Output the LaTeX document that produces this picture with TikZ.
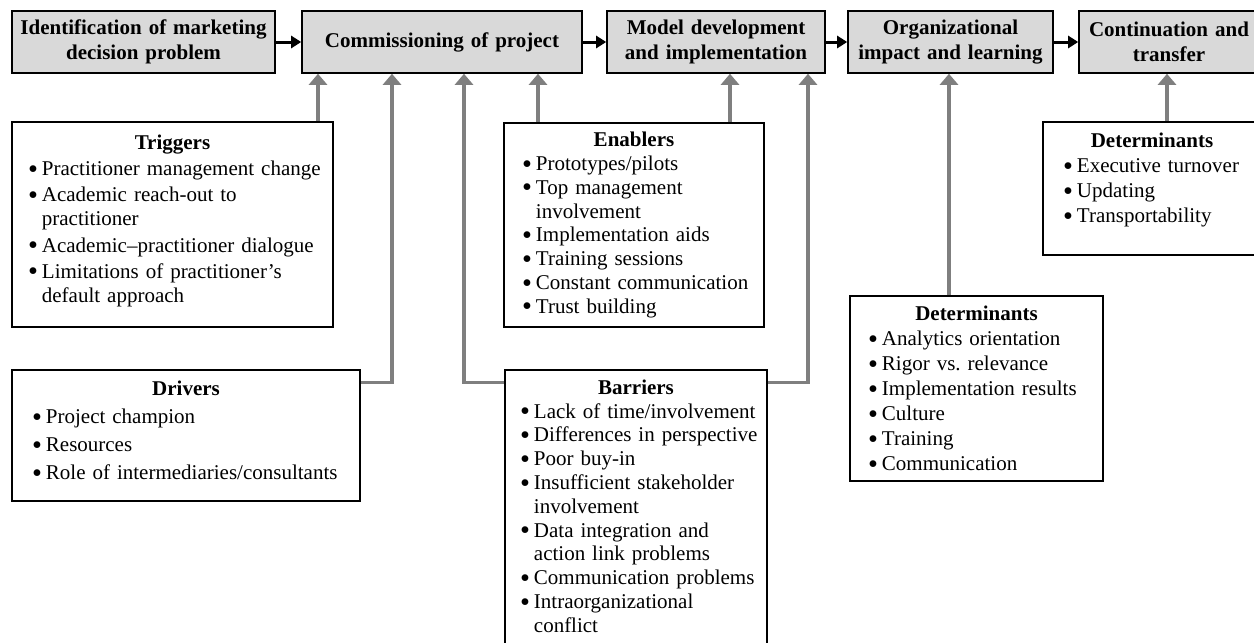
\documentclass[tikz,border=0pt]{standalone}
\usepackage{fontspec}
\usepackage{graphicx}
\setmainfont{Liberation Serif}
\usetikzlibrary{arrows.meta}
\definecolor{boxgray}{HTML}{D9D9D9}
\definecolor{linkgray}{HTML}{7F7F7F}
\newcommand{\itm}{\par\noindent\sbox0{\raisebox{-2.6pt}[0pt][0pt]{\scalebox{1.35}{\textbullet}}\hspace{4pt}}\hangindent=\wd0 \hangafter=1 \rightskip=-40pt plus 1fil\relax\usebox0}
\newcommand{\hd}[1]{{\centering\bfseries #1\par}}

\begin{document}
\begin{tikzpicture}[x=1pt, y=-1pt,
  every node/.style={font=\fontsize{21}{23.8}\selectfont},
  topbox/.style={draw, line width=1.6pt, fill=boxgray, align=center, text width=#1, inner xsep=0pt, minimum height=62pt, font=\fontsize{21}{25}\selectfont\bfseries},
  listbox/.style={draw, line width=1.6pt, fill=white, align=left, execute at begin node={\setlength{\parskip}{#1}}},
  listbox/.default=0pt,
  flow/.style={-{Triangle[width=12pt,length=10pt]}, line width=3pt},
  link/.style={-{Triangle[width=18pt,length=11pt]}, line width=3.5pt, linkgray}]
\useasboundingbox (0,0) rectangle (1254,643);

\node[topbox=263pt] (ident) at (143.5,42) {Identification of marketing\\decision problem};
\node[topbox=280pt] (comm) at (442,42) {Commissioning of project};
\node[topbox=218pt] (model) at (716,42) {Model development\\and implementation};
\node[topbox=205pt] (impact) at (950.5,42) {Organizational\\impact and learning};
\node[topbox=180pt] (cont) at (1169,42) {Continuation and\\transfer};

\node[listbox=2.5pt, text width=289pt, inner xsep=16pt, minimum height=205pt] (trig) at (172.5,224.5) {\hd{Triggers}
\itm Practitioner management change
\itm Academic reach-out to\newline practitioner
\itm Academic--practitioner dialogue
\itm Limitations of practitioner's\newline default approach\rule[-12pt]{0pt}{0pt}\par};
\node[listbox, text width=224pt, inner xsep=18pt, minimum height=204pt] (enab) at (634,225) {\hd{Enablers}
\itm Prototypes/pilots
\itm Top management\newline involvement
\itm Implementation aids
\itm Training sessions
\itm Constant communication
\itm Trust building\par};
\node[listbox=4.3pt, text width=308pt, inner xsep=20pt, minimum height=131pt] (drv) at (186,435.5) {\hd{Drivers}
\itm Project champion
\itm Resources
\itm Role of intermediaries/consultants\rule[-10pt]{0pt}{0pt}\par};
\node[listbox, text width=232pt, inner xsep=15pt, minimum height=300pt] (barr) at (636,520) {\hd{Barriers}
\itm Lack of time/involvement
\itm Differences in perspective
\itm Poor buy-in
\itm Insufficient stakeholder\newline involvement
\itm Data integration and\newline action link problems
\itm Communication problems
\itm Intraorganizational\newline conflict\rule[-28pt]{0pt}{0pt}\par};
\node[listbox=1.2pt, text width=217pt, inner xsep=18pt, minimum height=185pt] (orgdet) at (976.5,388.5) {\hd{Determinants}
\itm Analytics orientation
\itm Rigor vs.\ relevance
\itm Implementation results
\itm Culture
\itm Training
\itm Communication\par};
\node[listbox=1.3pt, text width=178pt, inner xsep=20pt, minimum height=133pt] (contdet) at (1152,188.5) {\hd{Determinants}
\itm Executive turnover
\itm Updating
\itm Transportability\rule[-21pt]{0pt}{0pt}\par};

\draw[flow] (ident) -- (comm);
\draw[flow] (comm) -- (model);
\draw[flow] (model) -- (impact);
\draw[flow] (impact) -- (cont);

\coordinate (c1) at (318,0);
\coordinate (c2) at (392,382.5);
\coordinate (c3) at (464,382.5);
\coordinate (c4) at (538,0);
\coordinate (c5) at (730,0);
\coordinate (c6) at (808,382.5);
\coordinate (c7) at (949,0);
\coordinate (c8) at (1167,0);

\draw[link] (trig.north -| c1) -- (comm.south -| c1);
\draw[link] (drv.east |- c2) -- (c2) -- (comm.south -| c2);
\draw[link] (barr.west |- c3) -- (c3) -- (comm.south -| c3);
\draw[link] (enab.north -| c4) -- (comm.south -| c4);
\draw[link] (enab.north -| c5) -- (model.south -| c5);
\draw[link] (barr.east |- c6) -- (c6) -- (model.south -| c6);
\draw[link] (orgdet.north -| c7) -- (impact.south -| c7);
\draw[link] (contdet.north -| c8) -- (cont.south -| c8);
\end{tikzpicture}
\end{document}
